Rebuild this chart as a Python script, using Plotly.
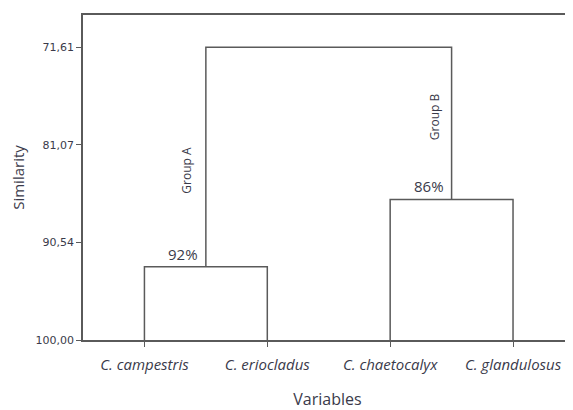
import plotly.graph_objects as go

species = ["C. campestris", "C. eriocladus", "C. chaetocalyx", "C. glandulosus"]
merge_heights = [92.89, 86.37, 71.61]  # Group A, Group B, root
merge_labels = ["92%", "86%"]
group_names = ["Group A", "Group B"]
y_ticks = [71.61, 81.07, 90.54, 100.00]
y_ticklabels = ["71,61", "81,07", "90,54", "100,00"]

pos = [1, 2, 3, 4]
line_color = "#5a5a5a"
txt_color = "#3a3a4a"

fig = go.Figure()

def link(x1, h1, x2, h2, h):
    fig.add_trace(go.Scatter(x=[x1, x1, x2, x2], y=[h1, h, h, h2], mode="lines",
                             line=dict(color=line_color, width=1.5),
                             hoverinfo="skip", showlegend=False))

hA, hB, hR = merge_heights
link(pos[0], 100, pos[1], 100, hA)
link(pos[2], 100, pos[3], 100, hB)
cA = (pos[0] + pos[1]) / 2
cB = (pos[2] + pos[3]) / 2
link(cA, hA, cB, hB, hR)

fig.add_annotation(x=cA, y=hA, text=merge_labels[0], showarrow=False, xanchor="right",
                   yanchor="bottom", xshift=-6, yshift=1, font=dict(size=15, color=txt_color))
fig.add_annotation(x=cB, y=hB, text=merge_labels[1], showarrow=False, xanchor="right",
                   yanchor="bottom", xshift=-6, yshift=1, font=dict(size=15, color=txt_color))
fig.add_annotation(x=cA, y=(hA + hR) / 2 + 1.3, text=group_names[0], showarrow=False, textangle=-90,
                   xanchor="right", xshift=-9, font=dict(size=12, color=txt_color))
fig.add_annotation(x=cB, y=(hB + hR) / 2 - 0.6, text=group_names[1], showarrow=False, textangle=-90,
                   xanchor="right", xshift=-7, font=dict(size=12, color=txt_color))

# The page body has an 8px margin, so the figure is sized/offset to compensate
fig.update_layout(
    width=565, height=402,
    margin=dict(l=75, r=1, t=7, b=70, autoexpand=False),
    paper_bgcolor="white", plot_bgcolor="white",
    font=dict(family="Open Sans", color=txt_color),
    xaxis=dict(range=[0.5, 4.48], tickvals=pos, automargin=False,
               ticktext=["<i>%s</i>" % s for s in species],
               showgrid=False, zeroline=False, showline=True, mirror=True,
               linecolor=line_color, linewidth=1.5,
               ticks="outside", ticklen=5, tickcolor=line_color, ticklabelstandoff=5,
               tickfont=dict(size=15, color=txt_color),
               title=dict(text="Variables", font=dict(size=16, color=txt_color), standoff=24)),
    yaxis=dict(range=[100, 68.49], tickvals=y_ticks, ticktext=y_ticklabels, automargin=False,
               showgrid=False, zeroline=False, showline=True, mirror=True,
               linecolor=line_color, linewidth=1.5,
               ticks="outside", ticklen=5, tickcolor=line_color,
               tickfont=dict(size=11, family="DejaVu Sans", color=txt_color),
               title=dict(text="Similarity", font=dict(size=15, color=txt_color), standoff=10)),
)

fig.write_html("out.html")
